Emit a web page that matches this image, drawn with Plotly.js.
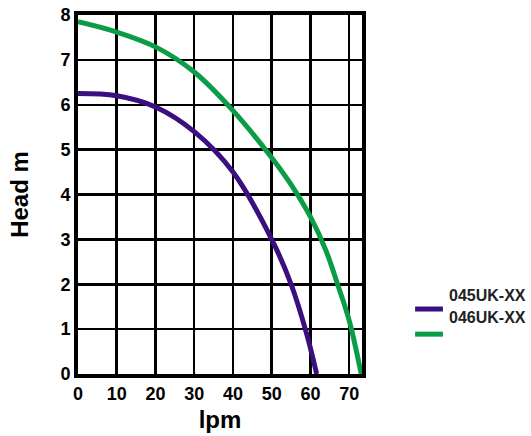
<!DOCTYPE html>
<html><head><meta charset="utf-8">
<script src="https://cdn.plot.ly/plotly-3.0.1.min.js"></script>
<style>html,body{margin:0;padding:0;background:#fff}</style>
</head><body><div id="chart" style="width:531px;height:436px"></div>
<script>
const flowA = [0, 10, 20, 30, 40, 50, 55, 59, 61.6];
const headA = [6.25, 6.2, 5.95, 5.4, 4.5, 3.0, 2.0, 0.9, 0];
const flowB = [0, 10, 20, 30, 40, 50, 55, 60, 64, 67, 70, 73.1];
const headB = [7.85, 7.62, 7.29, 6.73, 5.87, 4.82, 4.22, 3.5, 2.75, 2.0, 1.19, 0];
const nameA = "045UK-XX";
const nameB = "046UK-XX";
const colorA = "#3b0f80";
const colorB = "#0a9d45";
const xTicks = [0, 10, 20, 30, 40, 50, 60, 70];
const yTicks = [0, 1, 2, 3, 4, 5, 6, 7, 8];

const font = "Liberation Sans, Arial, sans-serif";
const traces = [
  {x: flowA, y: headA, name: nameA, mode: "lines", line: {color: colorA, width: 5, shape: "spline", smoothing: 1}},
  {x: flowB, y: headB, name: nameB, mode: "lines", line: {color: colorB, width: 5, shape: "spline", smoothing: 1}}
];
const legFont = {family: font, size: 16, weight: "bold", color: "#222"};
const layout = {
  width: 531, height: 436,
  margin: {l: 78, r: 169, t: 15, b: 62},
  paper_bgcolor: "#fff", plot_bgcolor: "#fff",
  font: {family: font, color: "#000"},
  showlegend: false,
  shapes: [
    {type: "line", xref: "paper", yref: "paper", x0: 1.187, x1: 1.285, y0: 0.181, y1: 0.181, line: {color: colorA, width: 5}},
    {type: "line", xref: "paper", yref: "paper", x0: 1.187, x1: 1.285, y0: 0.111, y1: 0.111, line: {color: colorB, width: 5}}
  ],
  annotations: [
    {text: nameA, xref: "paper", yref: "paper", x: 1.3, y: 0.22, xanchor: "left", yanchor: "middle", showarrow: false, font: legFont},
    {text: nameB, xref: "paper", yref: "paper", x: 1.3, y: 0.156, xanchor: "left", yanchor: "middle", showarrow: false, font: legFont}
  ],
  xaxis: {
    range: [0, 73.3], tickvals: xTicks, ticktext: xTicks.map(String),
    showgrid: true, gridcolor: "#000", gridwidth: 2.5,
    showline: true, linecolor: "#000", linewidth: 4, mirror: true,
    zeroline: false, ticks: "",
    tickfont: {family: font, size: 18, weight: "bold"},
    title: {text: "lpm", font: {family: font, size: 24, weight: "bold"}, standoff: 10}
  },
  yaxis: {
    range: [0, 8], tickvals: yTicks, ticktext: yTicks.map(String),
    showgrid: true, gridcolor: "#000", gridwidth: 2.5,
    showline: true, linecolor: "#000", linewidth: 4, mirror: true,
    zeroline: false, ticks: "",
    tickfont: {family: font, size: 18, weight: "bold"},
    title: {text: "Head m", font: {family: font, size: 24, weight: "bold"}, standoff: 26}
  }
};
Plotly.newPlot("chart", traces, layout, {displayModeBar: false, staticPlot: true});
</script></body></html>
